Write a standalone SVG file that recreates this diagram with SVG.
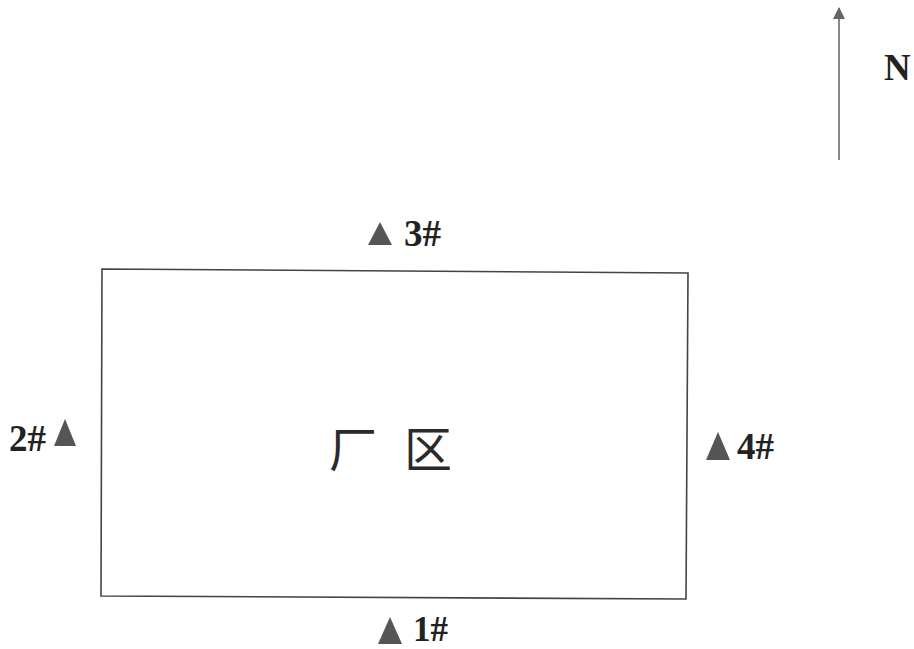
<svg xmlns="http://www.w3.org/2000/svg" width="914" height="649" viewBox="0 0 914 649">
<style>
.lbl{font-family:"Liberation Serif","Times New Roman",serif;font-weight:bold;font-size:37px;fill:#222}
.tri{fill:#555}
.cjk{font-family:"Noto Sans CJK SC","Noto Sans CJK JP",sans-serif;font-size:48px;fill:#2a2a2a;font-weight:400}
</style>
<defs>
<marker id="ah" viewBox="0 0 12 12" refX="11" refY="6" markerWidth="14" markerHeight="12" markerUnits="userSpaceOnUse" orient="auto">
<path d="M0,0 L12,6 L0,12 z" fill="#666"/>
</marker>
</defs>
<rect width="914" height="649" fill="#fff"/>
<g id="connectors">
<line x1="839" y1="160" x2="839" y2="8" stroke="#888" stroke-width="2" marker-end="url(#ah)"/>
</g>
<g id="north"><text class="lbl" x="884" y="80">N</text></g>
<g id="plant">
<polygon points="102,269 688,273 686,599 101,596" fill="none" stroke="#444" stroke-width="1.6"/>
<text class="cjk" x="329" y="467">厂</text>
<text class="cjk" x="404" y="467">区</text>
</g>
<g id="p3"><polygon class="tri" points="380,222 392,245 368,245"/><text class="lbl" x="404" y="246">3#</text></g>
<g id="p2"><polygon class="tri" points="65,419 76,446 54,446"/><text class="lbl" x="9" y="451">2#</text></g>
<g id="p4"><polygon class="tri" points="718,432 730,460 706,460"/><text class="lbl" x="737" y="459">4#</text></g>
<g id="p1"><polygon class="tri" points="390,617 402,644 378,644"/><text class="lbl" x="413" y="641" style="font-size:35px">1#</text></g>
</svg>
